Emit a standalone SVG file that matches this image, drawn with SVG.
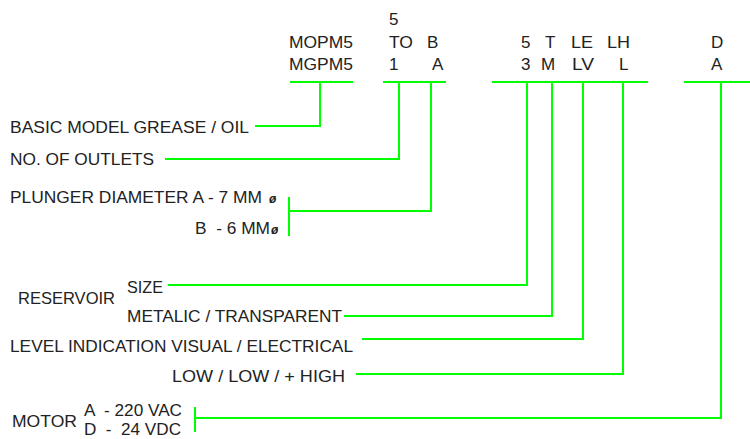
<svg xmlns="http://www.w3.org/2000/svg" width="750" height="439" viewBox="0 0 750 439">
<style>
text{font-family:"Liberation Sans",Arial,sans-serif;font-size:17px;fill:#222;white-space:pre}
.c{fill:none;stroke:#00ff00;stroke-width:2}
.phi{font-size:12px;font-style:italic;font-weight:bold}
</style>
<rect width="750" height="439" fill="#fff"/>
<g id="code-model">
<text x="289" y="48" textLength="64" lengthAdjust="spacingAndGlyphs">MOPM5</text>
<text x="289" y="70" textLength="64" lengthAdjust="spacingAndGlyphs">MGPM5</text>
</g>
<g id="code-outlets">
<text x="389" y="25">5</text>
<text x="389" y="48" textLength="24" lengthAdjust="spacingAndGlyphs">TO</text>
<text x="389" y="70">1</text>
</g>
<g id="code-plunger">
<text x="427" y="48">B</text>
<text x="432" y="70">A</text>
</g>
<g id="code-reservoir">
<text x="521" y="48">5</text>
<text x="521" y="70">3</text>
<text x="545" y="48">T</text>
<text x="541" y="70">M</text>
</g>
<g id="code-level">
<text x="571" y="48" textLength="22" lengthAdjust="spacingAndGlyphs">LE</text>
<text x="572" y="70" textLength="22" lengthAdjust="spacingAndGlyphs">LV</text>
<text x="607" y="48" textLength="23" lengthAdjust="spacingAndGlyphs">LH</text>
<text x="619" y="70">L</text>
</g>
<g id="code-motor">
<text x="711" y="48">D</text>
<text x="711" y="70">A</text>
</g>
<g id="label-basic"><text x="10" y="133" textLength="239" lengthAdjust="spacingAndGlyphs">BASIC MODEL GREASE / OIL</text></g>
<g id="label-outlets"><text x="10" y="165" textLength="144" lengthAdjust="spacingAndGlyphs">NO. OF OUTLETS</text></g>
<g id="label-plunger">
<text x="10" y="203" textLength="252" lengthAdjust="spacingAndGlyphs">PLUNGER DIAMETER A - 7 MM</text>
<text x="269" y="203" class="phi">ø</text>
<text x="195" y="234" xml:space="preserve" textLength="75" lengthAdjust="spacingAndGlyphs">B  - 6 MM</text>
<text x="271" y="234" class="phi">ø</text>
</g>
<g id="label-reservoir">
<text x="18" y="304" textLength="97" lengthAdjust="spacingAndGlyphs">RESERVOIR</text>
<text x="127" y="293" textLength="36" lengthAdjust="spacingAndGlyphs">SIZE</text>
<text x="127" y="322" textLength="215" lengthAdjust="spacingAndGlyphs">METALIC / TRANSPARENT</text>
</g>
<g id="label-level">
<text x="10" y="352" textLength="343" lengthAdjust="spacingAndGlyphs">LEVEL INDICATION VISUAL / ELECTRICAL</text>
<text x="172" y="382" textLength="173" lengthAdjust="spacingAndGlyphs">LOW / LOW / + HIGH</text>
</g>
<g id="label-motor">
<text x="12" y="427" textLength="65" lengthAdjust="spacingAndGlyphs">MOTOR</text>
<text x="84" y="416" xml:space="preserve" textLength="98" lengthAdjust="spacingAndGlyphs">A  - 220 VAC</text>
<text x="84" y="435" xml:space="preserve" textLength="97" lengthAdjust="spacingAndGlyphs">D  -  24 VDC</text>
</g>
<g id="connectors" class="c">
<path d="M290 82H353"/>
<path d="M383 82H446"/>
<path d="M492 82H648"/>
<path d="M684 82H750"/>
<path d="M320 82V126H255"/>
<path d="M399 82V159H165"/>
<path d="M431 82V211H289"/>
<path d="M289 197V236"/>
<path d="M527 82V285H168"/>
<path d="M552 82V316H344"/>
<path d="M583 82V339H362"/>
<path d="M623 82V374H356"/>
<path d="M721 82V418H195"/>
<path d="M195 407V432"/>
</g>
</svg>
